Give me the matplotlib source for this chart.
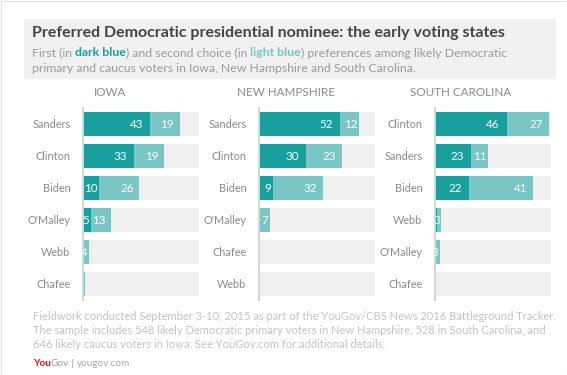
import matplotlib.pyplot as plt
from matplotlib.patches import Rectangle

plt.rcParams['font.family'] = ['Lato', 'DejaVu Sans']

# data: first and second choice per state
states = ['IOWA', 'NEW HAMPSHIRE', 'SOUTH CAROLINA']
iowa_names = ['Sanders', 'Clinton', 'Biden', "O'Malley", 'Webb', 'Chafee']
iowa_first = [43, 33, 10, 5, 0, 0]
iowa_second = [19, 19, 26, 13, 4, 1]
nh_names = ['Sanders', 'Clinton', 'Biden', "O'Malley", 'Chafee', 'Webb']
nh_first = [52, 30, 9, 0, 0, 0]
nh_second = [12, 23, 32, 7, 0, 0]
sc_names = ['Clinton', 'Sanders', 'Biden', 'Webb', "O'Malley", 'Chafee']
sc_first = [46, 23, 22, 1, 0, 0]
sc_second = [27, 11, 41, 3, 3, 0]

panels = [(iowa_names, iowa_first, iowa_second),
          (nh_names, nh_first, nh_second),
          (sc_names, sc_first, sc_second)]

dark = '#17a09e'
light = '#79c6c4'
bg = '#f0f0f0'
txt = '#8a8a8a'

W, H = 567, 375
fig = plt.figure(figsize=(W / 100, H / 100), dpi=100)
fig.patch.set_facecolor('white')

# header box
fig.patches.append(Rectangle((24 / W, 1 - 79 / H), 532 / W, 60 / H, transform=fig.transFigure,
                             facecolor='#f1f1f1', edgecolor='none', zorder=0))
fig.patches.append(Rectangle((0.5 / W, 0.5 / H), 1 - 1 / W, 1 - 1 / H, transform=fig.transFigure,
                             facecolor='none', edgecolor='#e2e2e2', lw=0.8, zorder=0))

fig.text(32 / W, 1 - 33 / H, 'Preferred Democratic presidential nominee: the early voting states',
         fontsize=11.5, fontweight='bold', color='#444444', va='center')

renderer = fig.canvas.get_renderer()


def rich_line(x, y, parts, size):
    # draw pieces of text one after another on one line
    for s, col, wt in parts:
        t = fig.text(x, y, s, fontsize=size, color=col, fontweight=wt, va='center')
        bb = t.get_window_extent(renderer)
        x += bb.width / W


rich_line(32 / W, 1 - 53 / H, [('First (in ', '#9a9a9a', 'normal'), ('dark blue', dark, 'bold'),
                               (') and second choice (in ', '#9a9a9a', 'normal'),
                               ('light blue', light, 'bold'),
                               (') preferences among likely Democratic', '#9a9a9a', 'normal')], 8.85)
fig.text(32 / W, 1 - 68 / H, 'primary and caucus voters in Iowa, New Hampshire and South Carolina.',
         fontsize=8.85, color='#9a9a9a', va='center')

lefts = [83, 259, 435]
title_x = [110, 286, 461]
xmax = 74.5

for i, (names, first, second) in enumerate(panels):
    ax = fig.add_axes([lefts[i] / W, 1 - 300 / H, 116 / W, 192 / H])
    y = list(range(len(names)))
    ax.barh(y, [xmax] * len(names), height=0.72, color=bg, zorder=1)
    ax.barh(y, first, height=0.72, color=dark, zorder=2)
    ax.barh(y, second, left=first, height=0.72, color=light, zorder=2)
    ax.set_xlim(0, xmax)
    ax.set_ylim(len(names) - 0.5, -0.5)
    ax.set_yticks(y)
    ax.set_yticklabels(names, fontsize=7.8, color=txt)
    ax.tick_params(axis='y', length=0, pad=9)
    ax.set_xticks([])
    for s in ['top', 'right', 'bottom']:
        ax.spines[s].set_visible(False)
    ax.spines['left'].set_color('#d6d6d6')
    ax.spines['left'].set_linewidth(1.4)
    ax.spines['left'].set_zorder(3)
    for j in y:
        f, s2 = first[j], second[j]
        if f >= 3:
            pad = -5 if f > 12 else -1
            ax.annotate(str(f), (f, j), xytext=(pad, 0), textcoords='offset points',
                        ha='right', va='center', color='white', fontsize=8.4, zorder=4)
        if s2 >= 3:
            pad = -4 if s2 > 12 else -1
            ax.annotate(str(s2), (f + s2, j), xytext=(pad, 0), textcoords='offset points',
                        ha='right', va='center', color='white', fontsize=8.4, zorder=4)
    fig.text(title_x[i] / W, 1 - 93 / H, states[i], fontsize=8.4, color=txt,
             ha='center', va='center')

foot = ['Fieldwork conducted September 3-10, 2015 as part of the YouGov/CBS News 2016 Battleground Tracker.',
        'The sample includes 548 likely Democratic primary voters in New Hampshire, 528 in South Carolina, and',
        '646 likely caucus voters in Iowa. See YouGov.com for additional details.']
for k, line in enumerate(foot):
    fig.text(33 / W, 1 - (317 + 14 * k) / H, line, fontsize=8.0, color='#c4c4c4', va='center')

rich_line(33 / W, 1 - 364 / H, [('You', '#e8141c', 'bold'), ('Gov', '#9a9a9a', 'normal'),
                               (' | ', '#9a9a9a', 'normal'), ('yougov.com', '#a8a8a8', 'normal')], 7.2)

fig.savefig('out.png', dpi=100)
